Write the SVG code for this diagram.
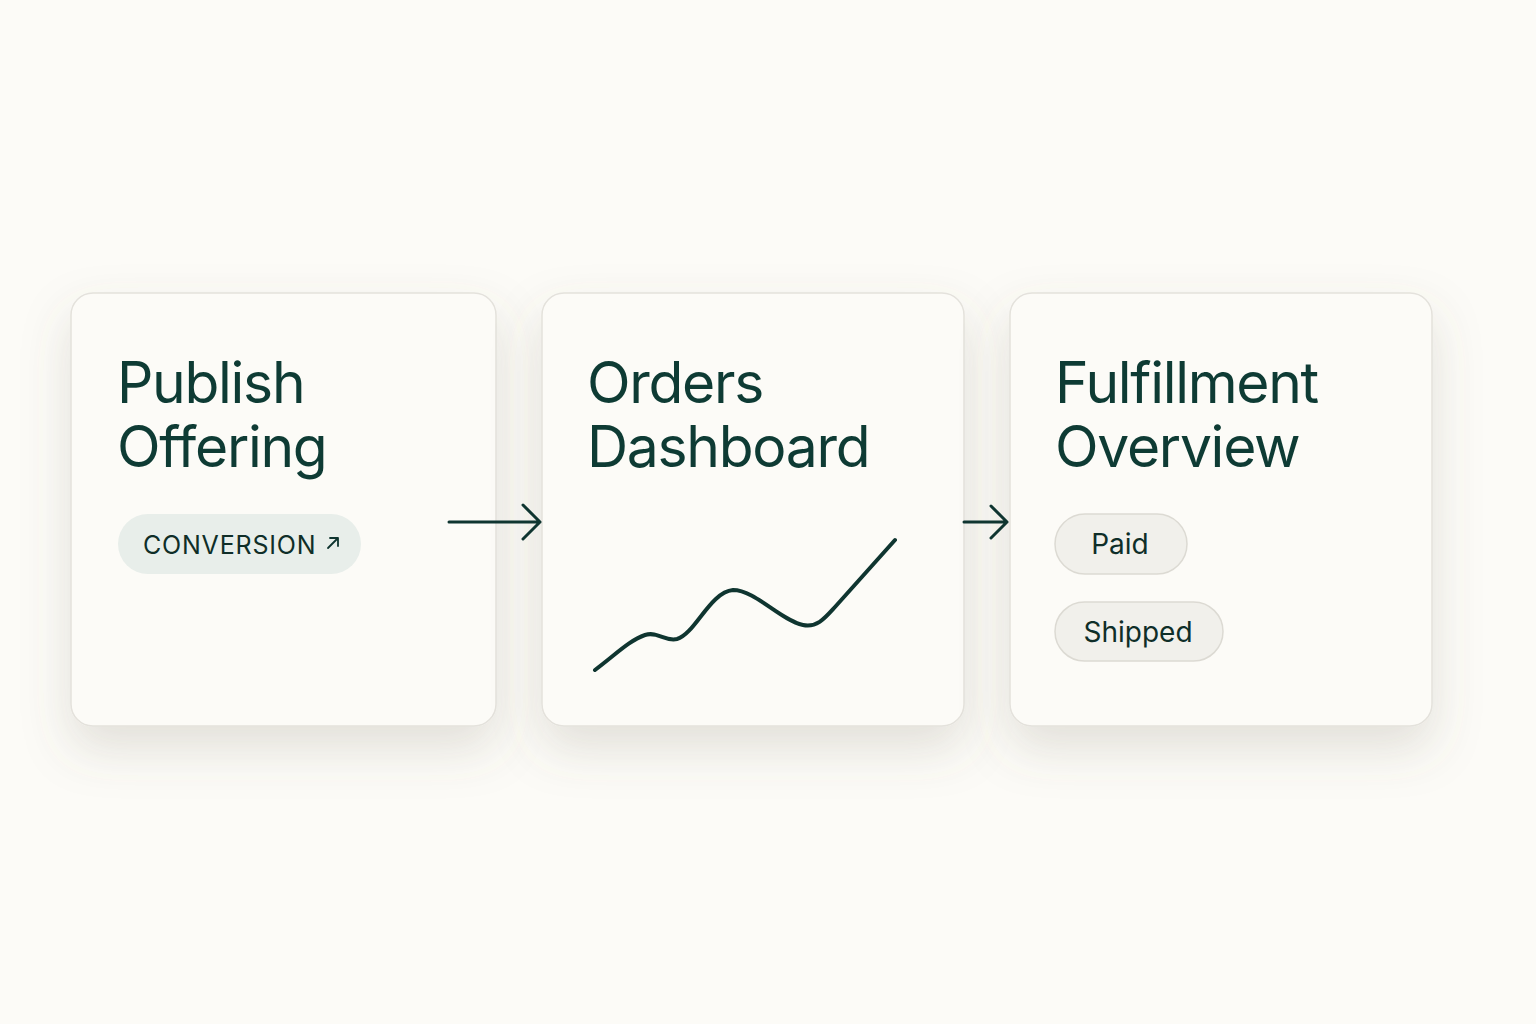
<svg xmlns="http://www.w3.org/2000/svg" width="1536" height="1024" viewBox="0 0 1536 1024">
<defs>
<filter id="sh" x="-30%" y="-30%" width="160%" height="170%">
<feDropShadow dx="0" dy="22" stdDeviation="24" flood-color="#6b6452" flood-opacity="0.18"/>
</filter>
<style>
.card{fill:#fcfbf7;stroke:#e4e2dc;stroke-width:1.5}
.title{font-family:Inter,"Noto Sans",sans-serif;font-size:57px;fill:#0e3b34;font-weight:400;letter-spacing:-1.3px}
.pill{fill:#f1f0eb;stroke:#dcdad3;stroke-width:1.5}
.ptext{font-family:Inter,"Noto Sans",sans-serif;font-size:28px;fill:#0f2e28;font-weight:400}
.conn{stroke:#0f3530;stroke-width:3;fill:none;stroke-linecap:round;stroke-linejoin:round}
</style>
</defs>
<rect width="1536" height="1024" fill="#fcfbf7"/>
<g id="node-publish">
<rect class="card" x="71" y="293" width="425" height="433" rx="22" filter="url(#sh)"/>
<text class="title" x="117" y="403">Publish</text>
<text class="title" x="117" y="467">Offering</text>
<rect x="118" y="514" width="243" height="60" rx="30" fill="#e8eeea"/>
<text class="ptext" x="143" y="554" style="font-size:25px;letter-spacing:0.8px">CONVERSION</text>
<path class="conn" d="M328 548 L338 538 M330 538 L338 538 L338 546" style="stroke-width:1.8"/>
</g>
<g id="node-orders">
<rect class="card" x="542" y="293" width="422" height="433" rx="22" filter="url(#sh)"/>
<text class="title" x="587" y="403">Orders</text>
<text class="title" x="587" y="467">Dashboard</text>
<path class="conn" d="M595 670 C615 655 630 640 645 635 C658 631 665 642 677 639 C695 634 710 592 733 590 C755 590 780 620 803 625 C817 628 825 618 835 607 L895 540" style="stroke-width:4"/>
</g>
<g id="node-fulfillment">
<rect class="card" x="1010" y="293" width="422" height="433" rx="22" filter="url(#sh)"/>
<text class="title" x="1055" y="403">Fulfillment</text>
<text class="title" x="1055" y="467">Overview</text>
<rect class="pill" x="1055" y="514" width="132" height="60" rx="30"/>
<text class="ptext" x="1120" y="554" text-anchor="middle">Paid</text>
<rect class="pill" x="1055" y="602" width="168" height="59" rx="29.5"/>
<text class="ptext" x="1138" y="642" text-anchor="middle">Shipped</text>
</g>
<g id="connectors">
<path class="conn" d="M449 522 L540 522 M523 505 L540 522 L523 539"/>
<path class="conn" d="M964 522 L1007 522 M991 506 L1007 522 L991 538"/>
</g>
</svg>
